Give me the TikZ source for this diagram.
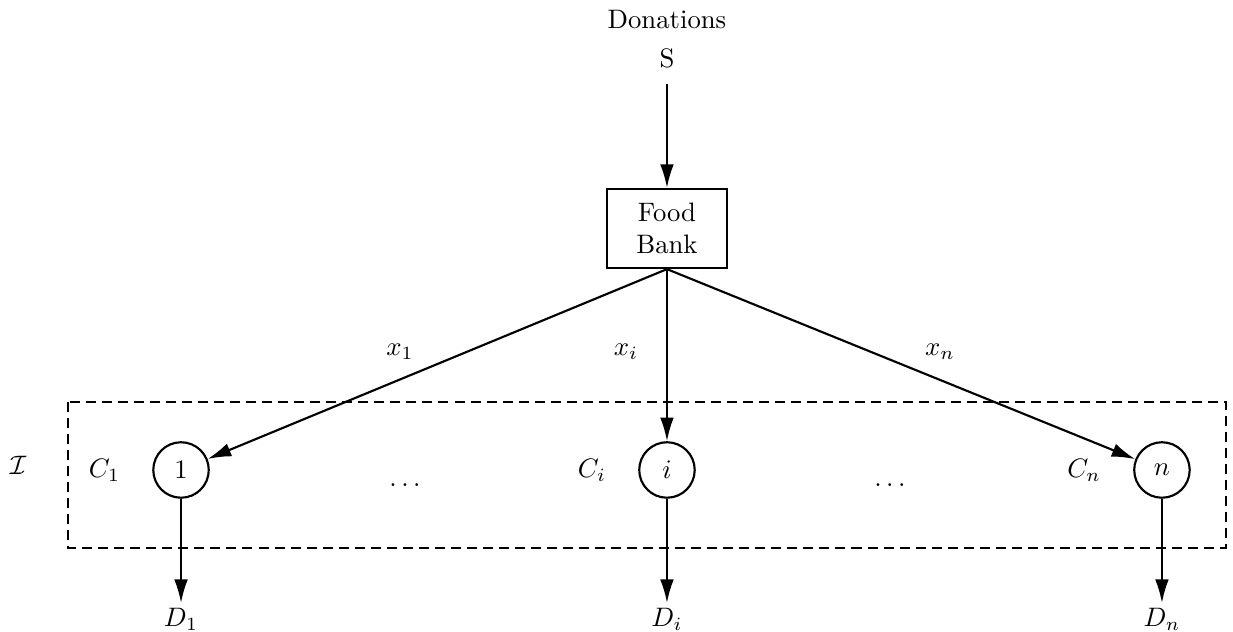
\documentclass[tikz,border=0pt]{standalone}
\usepackage{tikz}
\usetikzlibrary{arrows.meta, positioning}
\tikzset{
  bank/.style={rectangle, draw, thick, minimum width=1.58cm, minimum height=1.04cm,
               align=center, inner sep=2pt},
  cust/.style={circle, draw, thick, minimum size=7.3mm, inner sep=0pt},
  dem/.style={anchor=north, inner sep=1.8pt},
  arr/.style={-{Latex[length=3.1mm, width=1.8mm]}, thick},
  grp/.style={draw, thick, dash pattern=on 3.75pt off 2.25pt},
}
\begin{document}
\begin{tikzpicture}
\useasboundingbox (0,0) rectangle (16.224,-8.303);

% ========== Source and food bank ==========
\node (don)  at (8.776,-0.263) {Donations};
\node (src)  at (8.776,-0.763) {S};
\node[bank] (bank) at (8.776,-3.007) {Food\\Bank};

% ========== Clients ==========
\node[cust] (c1) at (2.382,-6.184)  {$1$};
\node[cust] (ci) at (8.776,-6.184)  {$i$};
\node[cust] (cn) at (15.289,-6.184) {$n$};

\node[left=0.3cm of c1] (lc1) {$C_1$};
\node[left=0.3cm of ci] (lci) {$C_i$};
\node[left=0.3cm of cn] (lcn) {$C_n$};

\node (dotsa) at (5.329,-6.38) {$\dots$};
\node (dotsb) at (11.71,-6.38) {$\dots$};

% Client set
\draw[grp] (0.895,-5.289) rectangle (16.132,-7.211);
\node (set) at (0.237,-6.118) {$\mathcal{I}$};

% ========== Demands ==========
\node[dem] (d1) at (2.382,-7.934)  {$D_1$};
\node[dem] (di) at (8.776,-7.934)  {$D_i$};
\node[dem] (dn) at (15.289,-7.934) {$D_n$};

% ========== Flows ==========
\draw[arr, shorten <=2.5pt] (src) -- (bank);

\draw[arr] (bank.south) -- node[pos=0.53, above left] {$x_1$} (c1);
\draw[arr] (bank.south) -- node[pos=0.48, left=2.5mm] {$x_i$} (ci);
\draw[arr] (bank.south) -- node[pos=0.53, above right] {$x_n$} (cn);

\draw[arr] (c1) -- (d1);
\draw[arr] (ci) -- (di);
\draw[arr] (cn) -- (dn);

\end{tikzpicture}
\end{document}
